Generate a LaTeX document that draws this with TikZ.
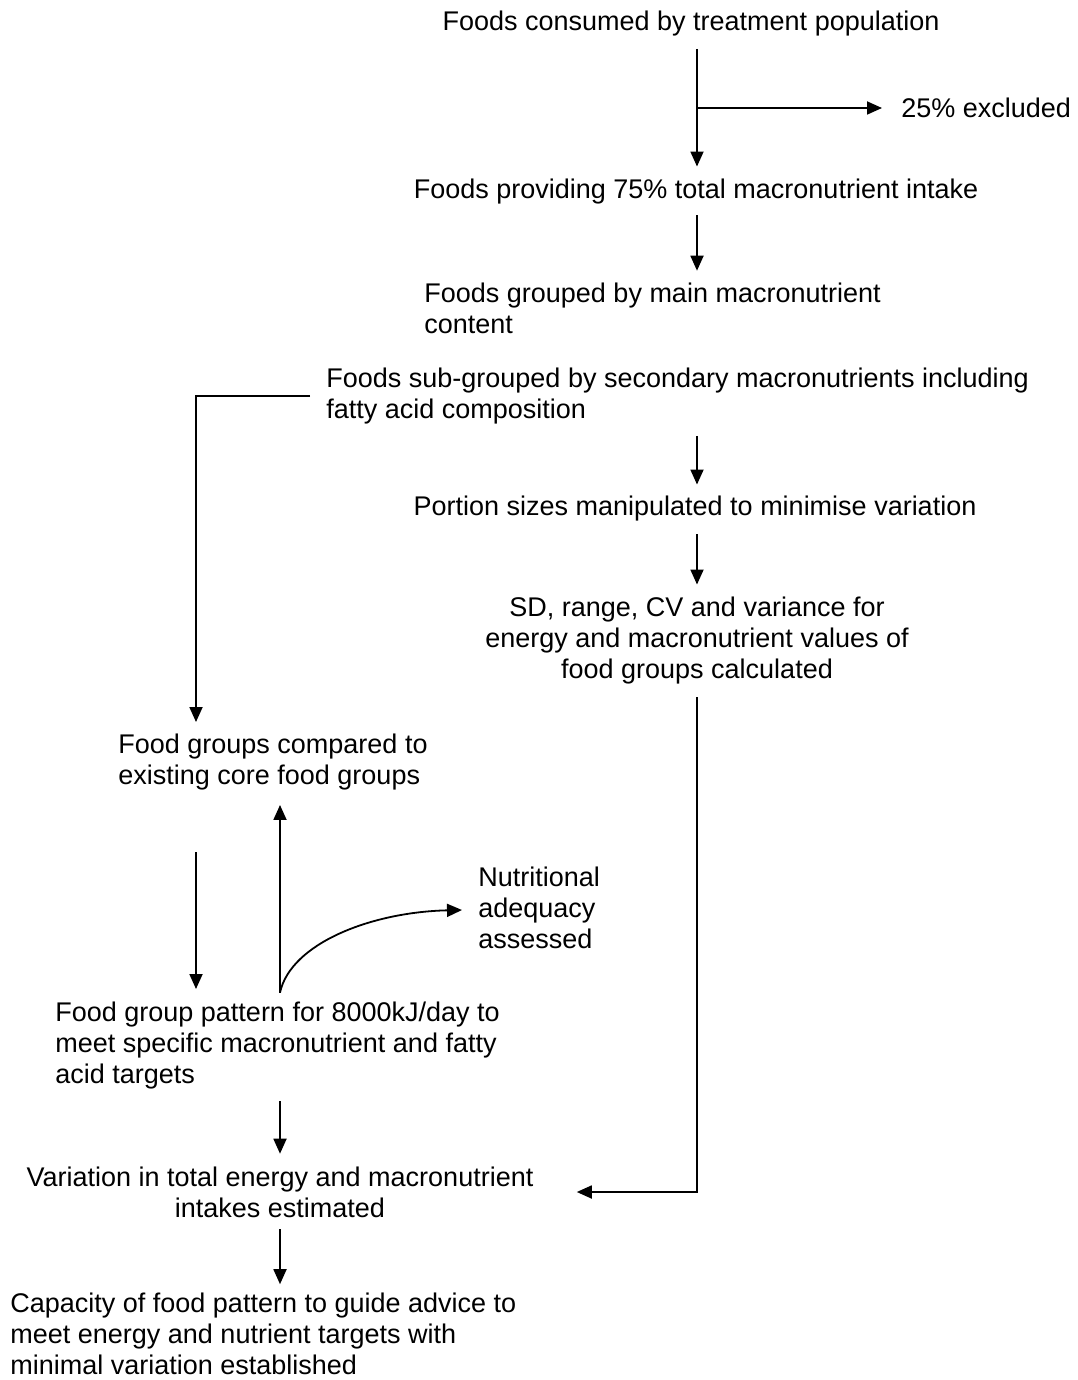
\documentclass[tikz,border=0pt]{standalone}
\usepackage{fontspec}
\setmainfont{Liberation Sans}
\usetikzlibrary{arrows.meta,calc}
\begin{document}
\begin{tikzpicture}[x=0.5pt,y=-0.5pt,
  txt/.style={inner sep=0pt,font=\fontsize{13.5}{15.5}\selectfont},
  ltxt/.style={txt,align=left,anchor=west},
  ctxt/.style={txt,align=center},
  conn/.style={line width=0.9pt},
  arr/.style={conn,-{Triangle[length=7.5pt,width=6.5pt]}}]
\useasboundingbox (0,0) rectangle (1077,1380);
\coordinate (trunk) at (697,0);
\coordinate (leftx) at (196,0);
\coordinate (midx) at (280,0);

\node[ctxt] (n1) at (691,24) {Foods consumed by treatment population};
\node[ltxt] (x25) at (901,108) {25\% excluded};
\node[ctxt] (n2) at (696,192) {Foods providing 75\% total macronutrient intake};
\node[ltxt] (n3) at (424,308) {Foods grouped by main macronutrient\\content};
\node[ltxt] (n4) at (326,396) {Foods sub-grouped by secondary macronutrients including\\fatty acid composition};
\node[ctxt] (n5) at (695,509) {Portion sizes manipulated to minimise variation};
\node[ctxt] (n6) at (697,641) {SD, range, CV and variance for\\energy and macronutrient values of\\food groups calculated};
\node[ltxt] (n7) at (118,762) {Food groups compared to\\existing core food groups};
\node[ltxt] (n8) at (478,908) {Nutritional\\adequacy\\assessed};
\node[ltxt] (n9) at (55,1046) {Food group pattern for 8000kJ/day to\\meet specific macronutrient and fatty\\acid targets};
\node[ctxt] (n10) at (280,1192) {Variation in total energy and macronutrient\\intakes estimated};
\node[ltxt] (n11) at (10,1334) {Capacity of food pattern to guide advice to\\meet energy and nutrient targets with\\minimal variation established};

% main trunk
\draw[arr] ($(n1.south -| trunk)+(0,12)$) -- ($(n2.north -| trunk)+(0,-12.5)$);
\draw[arr] (trunk |- x25) -- ($(x25.west)+(-19,0)$);
\draw[arr] ($(n2.south -| trunk)+(0,10.5)$) -- ($(n3.north -| trunk)+(0,-11.5)$);
\draw[arr] ($(n4.south -| trunk)+(0,11.5)$) -- ($(n5.north -| trunk)+(0,-11.5)$);
\draw[arr] ($(n5.south -| trunk)+(0,12.5)$) -- ($(n6.north -| trunk)+(0,-12.5)$);
\draw[arr] ($(n6.south -| trunk)+(0,12.5)$) |- ($(n10.east)+(43,0)$);

% left branch
\draw[arr] ($(n4.west)+(-16,0)$) -| ($(n7.north -| leftx)+(0,-11.5)$);
\draw[arr] ($(n7.south -| leftx)+(0,62)$) -- ($(n9.north -| leftx)+(0,-13)$);
\draw[arr] ($(n9.north -| midx)+(0,-9.5)$) -- ($(n7.south -| midx)+(0,14.5)$);
\draw[arr] ($(n9.north -| midx)+(0,-9.5)$) .. controls (291,943) and (372,912) .. ($(n8.west)+(-16,2)$);

% bottom
\draw[arr] ($(n9.south -| midx)+(0,11.5)$) -- ($(n10.north -| midx)+(0,-12.5)$);
\draw[arr] ($(n10.south -| midx)+(0,11.5)$) -- ($(n11.north -| midx)+(0,-8.5)$);
\end{tikzpicture}
\end{document}
